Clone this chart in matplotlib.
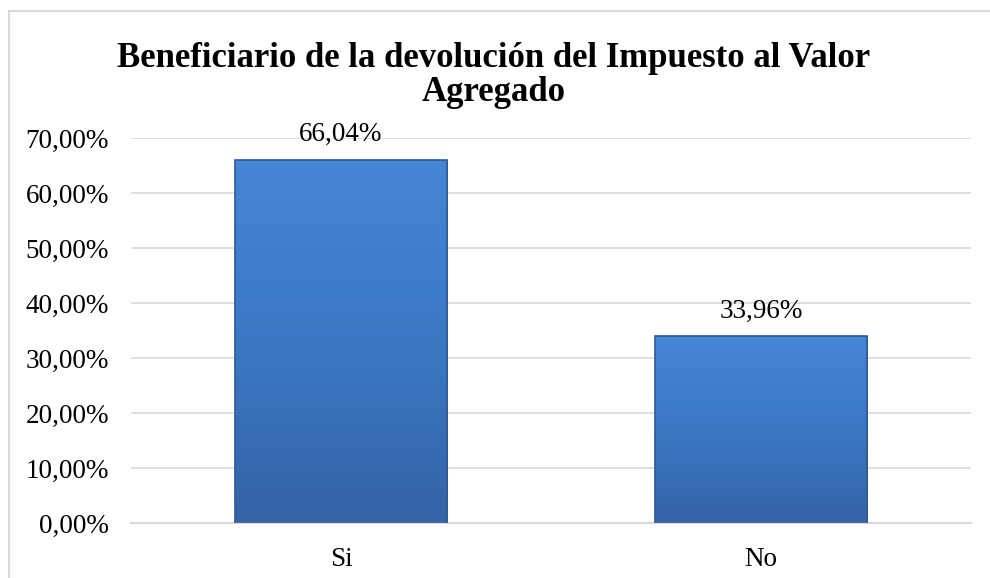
import matplotlib
matplotlib.use("Agg")
import matplotlib.pyplot as plt
import numpy as np
from matplotlib.lines import Line2D
from matplotlib.colors import LinearSegmentedColormap

categories = ["Si", "No"]
values = [66.04, 33.96]
yticks = [0, 10, 20, 30, 40, 50, 60, 70]
title = "Beneficiario de la devolución del Impuesto al Valor\nAgregado"

plt.rcParams['font.family'] = ['Liberation Serif', 'DejaVu Serif']

fig = plt.figure(figsize=(9.9, 5.78), dpi=100)
# chart frame (left and top edges visible)
fx = 8.5/990
fy = 1 - 10.5/578
fig.lines.append(Line2D([fx, fx], [0, fy], transform=fig.transFigure, color='#d9d9d9', linewidth=1.5))
fig.lines.append(Line2D([fx, 1.01], [fy, fy], transform=fig.transFigure, color='#d9d9d9', linewidth=1.5))

ax = fig.add_axes([131/990, 1 - 523/578, (971 - 131)/990, (523 - 138)/578])
ax.set_xlim(-0.5, 1.5)
ax.set_ylim(0, 70)

for s in ['top', 'right', 'left']:
    ax.spines[s].set_visible(False)
ax.spines['bottom'].set_color('#d9d9d9')
ax.spines['bottom'].set_linewidth(1.5)
ax.set_yticks(yticks)
ax.set_yticklabels([f"{v:.2f}%".replace('.', ',') for v in yticks], fontsize=19.5)
ax.yaxis.grid(True, color='#d9d9d9', linewidth=1.2)
ax.set_axisbelow(True)
ax.tick_params(axis='y', length=0, pad=16)
ax.tick_params(axis='x', length=0, pad=17)
ax.set_xticks(range(len(categories)))
ax.set_xticklabels(categories, fontsize=19.5)

cmap = LinearSegmentedColormap.from_list('g', ['#3463a6', '#3b78c4', '#4586d6'])
grad = np.linspace(0, 1, 256).reshape(-1, 1)
width = 0.505
bars = ax.bar(range(len(categories)), values, width=width, color='none',
              edgecolor='#2e5a94', linewidth=1.2, zorder=3)
for b, v in zip(bars, values):
    x0 = b.get_x()
    im = ax.imshow(grad, extent=(x0, x0 + width, 0, v), origin='lower', cmap=cmap,
                   aspect='auto', zorder=2)
    im.set_clip_path(b)
    ax.annotate(f"{v:.2f}%".replace('.', ','), (b.get_x() + width/2, v),
                xytext=(0, 9), textcoords='offset points', ha='center', va='bottom',
                fontsize=19.5)
ax.set_xlim(-0.5, 1.5)
ax.set_ylim(0, 70)

fig.text(494/990, 1 - 75.5/578, title, ha='center', va='center', fontsize=25,
         fontweight='bold', linespacing=1.05)

fig.savefig('out.png', dpi=100)
